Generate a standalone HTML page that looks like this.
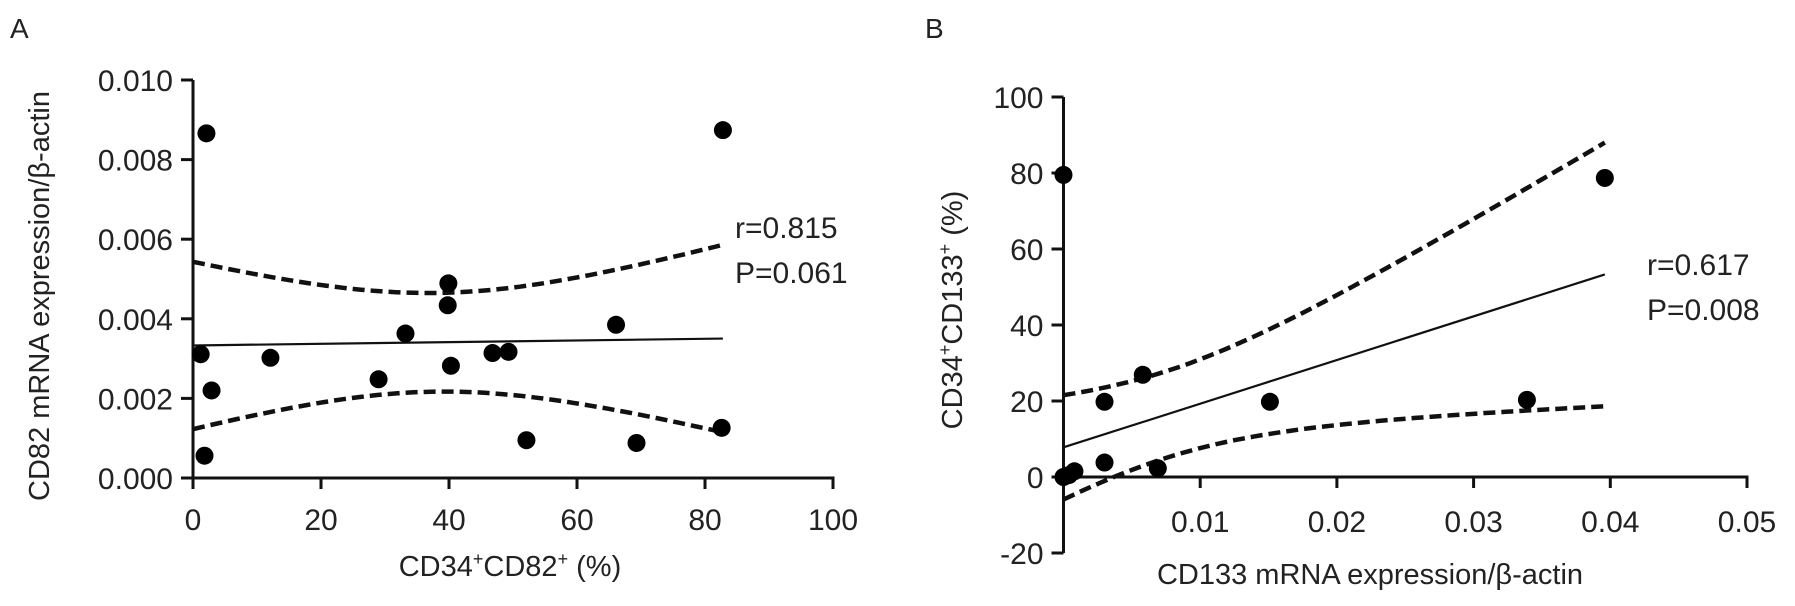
<!DOCTYPE html>
<html><head><meta charset="utf-8"><style>
html,body{margin:0;padding:0;background:#fff;}
svg{display:block;font-family:"Liberation Sans",sans-serif;}
</style></head><body>
<svg id="chart" width="1795" height="606" viewBox="0 0 1795 606" xmlns="http://www.w3.org/2000/svg">
<text x="10" y="38" font-size="28" fill="#222">A</text>
<text x="925" y="38" font-size="28" fill="#222">B</text>
<g id="pa"></g>
<g id="pb"></g>
</svg>
<script>
// Panel A data
const aXTicks = [0, 20, 40, 60, 80, 100];
const aYTicks = [0, 0.002, 0.004, 0.006, 0.008, 0.010];
const aYTickLabels = ["0.000", "0.002", "0.004", "0.006", "0.008", "0.010"];
const aX = [2.1, 82.8, 39.9, 39.8, 33.2, 66.1, 1.2, 12.1, 29.0, 40.3, 46.8, 49.3, 2.9, 52.1, 69.3, 82.6, 1.8];
const aY = [0.00866, 0.00874, 0.00489, 0.00434, 0.00363, 0.00385, 0.00311, 0.00302, 0.00248, 0.00282, 0.00314, 0.00317, 0.00220, 0.00095, 0.00088, 0.00126, 0.00056];
const aFit = [0.00333, 0.0000021]; // intercept, slope
const aBand = [38, 0.00124, 0.0000447]; // center x, min half-width, spread
const aStats = ["r=0.815", "P=0.061"];

// Panel B data
const bXTicks = [0.01, 0.02, 0.03, 0.04, 0.05];
const bXTickLabels = ["0.01", "0.02", "0.03", "0.04", "0.05"];
const bYTicks = [-20, 0, 20, 40, 60, 80, 100];
const bX = [0, 0.0030, 0.0058, 0.0151, 0.0339, 0.0030, 0.0069, 0, 0.0008, 0.0004, 0.0396];
const bY = [79.5, 19.8, 26.9, 19.8, 20.3, 3.8, 2.3, 0, 1.5, 0.5, 78.7];
const bFit = [7.8, 1149];
const bBand = [0.0075, 11.4, 1021];
const bStats = ["r=0.617", "P=0.008"];

const NS = "http://www.w3.org/2000/svg";
function mk(parent, tag, attrs, text) {
  const e = document.createElementNS(NS, tag);
  for (const k in attrs) e.setAttribute(k, attrs[k]);
  if (text !== undefined) e.textContent = text;
  parent.appendChild(e);
  return e;
}

function panel(g, cfg) {
  const sx = v => cfg.x0 + (v - cfg.xmin) / (cfg.xmax - cfg.xmin) * (cfg.x1 - cfg.x0);
  const sy = v => cfg.y0 - (v - cfg.ymin) / (cfg.ymax - cfg.ymin) * (cfg.y0 - cfg.y1);
  const zeroY = sy(0);
  // axes
  let e = mk(g, "line", {x1: sx(cfg.xmin), y1: sy(cfg.ymin), x2: sx(cfg.xmin), y2: sy(cfg.ymax), stroke: "#111", "stroke-width": 3});
  
  
  e = mk(g, "line", {x1: sx(cfg.xmin) - 1, y1: zeroY, x2: sx(cfg.xmax) + 1.5, y2: zeroY, stroke: "#111", "stroke-width": 3});
  
  
  cfg.xTicks.forEach((v, i) => {
    const t = mk(g, "line", {x1: sx(v), y1: zeroY, x2: sx(v), y2: zeroY + 11, stroke: "#111", "stroke-width": 3});
    
    
    const l = mk(g, "text", {x: sx(v), y: cfg.xLabY, "font-size": 30, "text-anchor": "middle", fill: "#222"}, cfg.xTickLabels[i]);
    
    
  });
  cfg.yTicks.forEach((v, i) => {
    const t = mk(g, "line", {x1: sx(cfg.xmin) - 12, y1: sy(v), x2: sx(cfg.xmin), y2: sy(v), stroke: "#111", "stroke-width": 3});
    
    
    const l = mk(g, "text", {x: sx(cfg.xmin) - 20, y: sy(v) + 11, "font-size": 30, "text-anchor": "end", fill: "#222"}, cfg.yTickLabels[i]);
    
    
  });
  // fit + band
  const xs = cfg.px, ys = cfg.py;
  const xEnd = Math.max(...xs);
  const N = 60;
  let up = "", lo = "";
  for (let i = 0; i <= N; i++) {
    const x = cfg.xmin + (xEnd - cfg.xmin) * i / N;
    const m = cfg.fit[0] + cfg.fit[1] * x;
    const h = Math.sqrt(cfg.band[1] * cfg.band[1] + cfg.band[2] * cfg.band[2] * (x - cfg.band[0]) * (x - cfg.band[0]));
    up += (i ? "L" : "M") + sx(x).toFixed(1) + "," + sy(m + h).toFixed(1);
    lo += (i ? "L" : "M") + sx(x).toFixed(1) + "," + sy(m - h).toFixed(1);
  }
  e = mk(g, "path", {d: up, fill: "none", stroke: "#111", "stroke-width": 4.5, "stroke-dasharray": "12 6"});
  
  
  e = mk(g, "path", {d: lo, fill: "none", stroke: "#111", "stroke-width": 4.5, "stroke-dasharray": "12 6"});
  
  
  e = mk(g, "line", {x1: sx(cfg.xmin), y1: sy(cfg.fit[0] + cfg.fit[1] * cfg.xmin), x2: sx(xEnd), y2: sy(cfg.fit[0] + cfg.fit[1] * xEnd), stroke: "#111", "stroke-width": 2.2});
  
  
  xs.forEach((x, i) => {
    const c = mk(g, "circle", {cx: sx(x), cy: sy(ys[i]), r: 9, fill: "#000"});
    
    
  });
  cfg.stats.forEach((s, i) => {
    const t = mk(g, "text", {x: cfg.statX, y: cfg.statY + i * 45, "font-size": 30, fill: "#222"}, s);
    
    
  });
  let t = mk(g, "text", {x: cfg.xTitleX, y: cfg.xTitleY, "font-size": 29, "text-anchor": "middle", fill: "#222"});
  t.innerHTML = cfg.xTitle;
  
  
  t = mk(g, "text", {x: 0, y: 0, "font-size": 29, "text-anchor": "middle", fill: "#222", transform: "translate(" + cfg.yTitleX + "," + cfg.yTitleY + ") rotate(-90)"});
  t.innerHTML = cfg.yTitle;
  
  
}

panel(document.getElementById("pa"), {
  x0: 193, x1: 833, xmin: 0, xmax: 100, y0: 478, y1: 80, ymin: 0, ymax: 0.010,
  xTicks: aXTicks, xTickLabels: aXTicks.map(String), yTicks: aYTicks, yTickLabels: aYTickLabels,
  px: aX, py: aY, fit: aFit, band: aBand, stats: aStats, statX: 735, statY: 238,
  xLabY: 530, xTitleX: 510, xTitleY: 576,
  xTitle: 'CD34<tspan font-size="18" dy="-11">+</tspan><tspan dy="11">CD82</tspan><tspan font-size="18" dy="-11">+</tspan><tspan dy="11"> (%)</tspan>',
  yTitleX: 49, yTitleY: 296, yTitle: 'CD82 mRNA expression/β-actin'
});
panel(document.getElementById("pb"), {
  x0: 1063.5, x1: 1747, xmin: 0, xmax: 0.05, y0: 553, y1: 97, ymin: -20, ymax: 100,
  xTicks: bXTicks, xTickLabels: bXTickLabels, yTicks: bYTicks, yTickLabels: bYTicks.map(String),
  px: bX, py: bY, fit: bFit, band: bBand, stats: bStats, statX: 1647, statY: 275,
  xLabY: 532, xTitleX: 1370, xTitleY: 584,
  xTitle: 'CD133 mRNA expression/β-actin',
  yTitleX: 962, yTitleY: 310,
  yTitle: 'CD34<tspan font-size="18" dy="-11">+</tspan><tspan dy="11">CD133</tspan><tspan font-size="18" dy="-11">+</tspan><tspan dy="11"> (%)</tspan>'
});
</script>
</body></html>
